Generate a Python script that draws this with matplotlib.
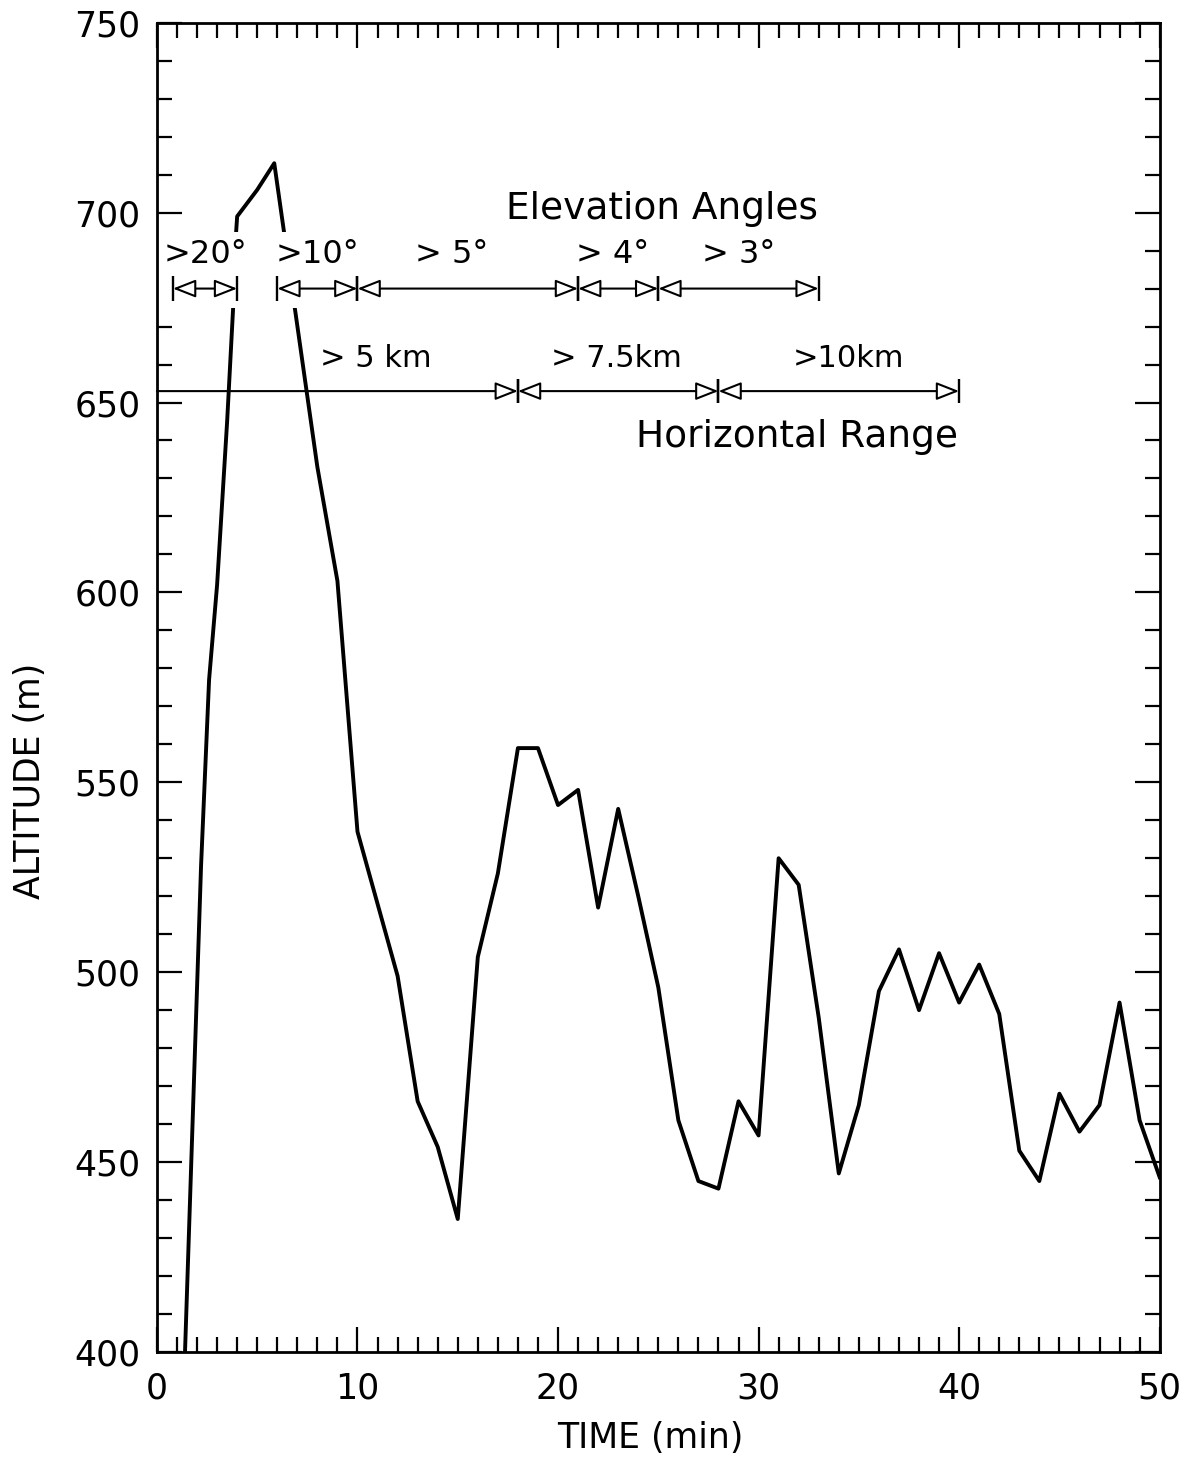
import matplotlib
matplotlib.use("Agg")
import matplotlib.pyplot as plt
from matplotlib.patches import ArrowStyle

plt.rcParams["font.family"] = ["DejaVu Sans"]

# altitude trace (min, m)
time_min = [1.4, 2.2, 2.6, 3.0, 3.5, 3.8, 3.95, 4.0, 5.0, 5.85,
            8.0, 9.0, 10.0, 11.0, 12.0, 13.0, 14.0, 15.0, 16.0, 17.0,
            18.0, 19.0, 20.0, 21.0, 22.0, 23.0, 24.0, 25.0, 26.0, 27.0,
            28.0, 29.0, 30.0, 31.0, 32.0, 33.0, 34.0, 35.0, 36.0, 37.0,
            38.0, 39.0, 40.0, 41.0, 42.0, 43.0, 44.0, 45.0, 46.0, 47.0,
            48.0, 49.0, 50.0]
altitude_m = [400, 528, 577, 602, 645, 675, 695, 699, 706, 713,
              633, 603, 537, 518, 499, 466, 454, 435, 504, 526,
              559, 559, 544, 548, 517, 543, 520, 496, 461, 445,
              443, 466, 457, 530, 523, 488, 447, 465, 495, 506,
              490, 505, 492, 502, 489, 453, 445, 468, 458, 465,
              492, 461, 446]

# elevation-angle bands at 680 m
elev_labels = [">20°", ">10°", "> 5°", "> 4°", "> 3°"]
elev_start = [0.8, 6.0, 10.0, 21.0, 25.0]
elev_end = [4.0, 10.0, 21.0, 25.0, 33.0]
elev_text_x = [2.4, 8.0, 14.7, 22.7, 29.0]
elev_alt = 680
elev_text_alt = 689

# horizontal-range bands at 653 m
range_labels = ["> 5 km", "> 7.5km", ">10km"]
range_start = [0.0, 18.0, 28.0]
range_end = [18.0, 28.0, 40.0]
range_text_x = [10.9, 22.9, 34.5]
range_alt = 653
range_text_alt = 661.5

fig = plt.figure(figsize=(11.98, 14.66), dpi=100)
ax = fig.add_axes([0.131, 0.0778, 0.837, 0.9067])

ax.plot(time_min, altitude_m, color="black", lw=2.8, zorder=2)
# the trace is blanked behind the angle labels
ax.axhspan(675, 695, xmin=0.0, xmax=0.2, color="white", zorder=2.5, lw=0)

bar_h = 3.2


def band(ax, x0, x1, y, left_head=True, left_bar=True):
    style = "<|-|>" if left_head else "-|>"
    ax.annotate("", xy=(x1, y), xytext=(x0, y),
                arrowprops=dict(arrowstyle=ArrowStyle(style, head_length=14, head_width=5.5),
                                mutation_scale=1, shrinkA=0, shrinkB=0,
                                lw=1.5, color="black", fc="white"),
                zorder=3)
    ax.vlines(x1, y - bar_h, y + bar_h, color="black", lw=1.7, zorder=3)
    if left_bar:
        ax.vlines(x0, y - bar_h, y + bar_h, color="black", lw=1.7, zorder=3)


for lab, x0, x1, tx in zip(elev_labels, elev_start, elev_end, elev_text_x):
    band(ax, x0, x1, elev_alt)
    ax.text(tx, elev_text_alt, lab, ha="center", va="center", fontsize=23, zorder=4)

for i, (lab, x0, x1, tx) in enumerate(zip(range_labels, range_start, range_end, range_text_x)):
    band(ax, x0, x1, range_alt, left_head=i > 0, left_bar=i > 0)
    ax.text(tx, range_text_alt, lab, ha="center", va="center", fontsize=22, zorder=4)

ax.text(25.2, 701, "Elevation Angles", ha="center", va="center", fontsize=27)
ax.text(31.9, 641, "Horizontal Range", ha="center", va="center", fontsize=27)

ax.set_xlim(0, 50)
ax.set_ylim(400, 750)
ax.set_xticks(range(0, 51, 10))
ax.set_xticks(range(0, 51, 1), minor=True)
ax.set_yticks(range(400, 751, 50))
ax.set_yticks(range(400, 751, 10), minor=True)
ax.tick_params(which="both", direction="in", top=True, right=True, width=1.6)
ax.tick_params(which="major", length=18, labelsize=25)
ax.tick_params(which="minor", length=11)
ax.tick_params(axis="x", pad=14)
ax.tick_params(axis="y", pad=12)
for sp in ax.spines.values():
    sp.set_linewidth(2)

ax.set_xlabel("TIME (min)", fontsize=25)
ax.set_ylabel("ALTITUDE (m)", fontsize=25)
ax.xaxis.set_label_coords(0.4925, -0.052)
ax.yaxis.set_label_coords(-0.11, 0.43)

fig.savefig("out.png", dpi=100)
